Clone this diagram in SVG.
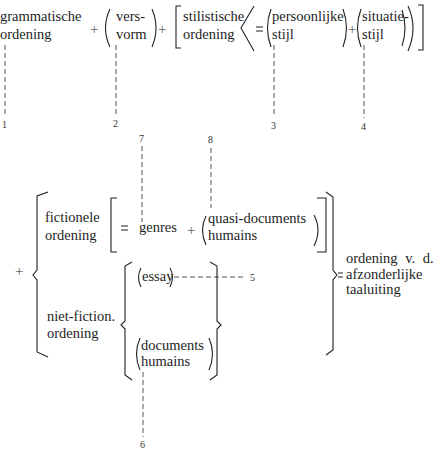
<svg xmlns="http://www.w3.org/2000/svg" width="439" height="450" viewBox="0 0 439 450" font-family="'Liberation Serif', 'DejaVu Serif', serif">
<style>
text{font-family:"Liberation Serif","DejaVu Serif",serif;font-size:14.5px;fill:#1e1e1e}
.pl{font-size:15px;fill:#666}
.num{font-size:10px;fill:#333}
.br{fill:none;stroke:#222;stroke-width:1.1;stroke-linejoin:miter}
.dash{fill:none;stroke:#555;stroke-width:1;stroke-dasharray:5 3}
</style>
<rect width="439" height="450" fill="#fff"/>
<g id="connectors">
<path class="dash" d="M5,45 V117"/>
<path class="dash" d="M116,45 V116"/>
<path class="dash" d="M274,45 V117"/>
<path class="dash" d="M364,45 V118"/>
<path class="dash" d="M142,146 V222"/>
<path class="dash" d="M211,148 V208"/>
<path class="dash" d="M174,277 H246"/>
<path class="dash" d="M143,372 V437"/>
</g>
<g id="grammatische">
<text x="0" y="21">grammatische</text><text x="0" y="38.5">ordening</text>
</g>
<text class="pl" x="90" y="34">+</text>
<g id="versvorm">
<path class="br" d="M110,9 Q101,28 110,47"/>
<text x="116" y="21">vers-</text><text x="116" y="38.5">vorm</text>
<path class="br" d="M152,9 Q160,28 152,47"/>
</g>
<text class="pl" x="158" y="34">+</text>
<g id="stilistische">
<path class="br" d="M181,6 H176 V48 H181"/>
<text x="183" y="21">stilistische</text><text x="183" y="38.5">ordening</text>
<path class="br" d="M254,6 L241,28 L254,51"/>
<path class="br" d="M256,27 H263 M256,31 H263"/>
<g id="persoonlijke">
<path class="br" d="M271,9 Q264,28 271,47"/>
<text x="272" y="21">persoonlijke</text><text x="272" y="38.5">stijl</text>
<path class="br" d="M343,9 Q350,28 343,47"/>
</g>
<text class="pl" x="348" y="34">+</text>
<g id="situatie">
<path class="br" d="M361,9 Q354,28 361,47"/>
<text x="362" y="21">situatie-</text><text x="362" y="38.5">stijl</text>
<path class="br" d="M402,10 Q408,28 402,46"/>
</g>
<path class="br" d="M408,6 Q418,28 408,51"/>
<path class="br" d="M418,5 H423 V50 H418"/>
</g>
<g id="labels-top">
<text class="num" x="2" y="128">1</text>
<text class="num" x="113" y="127">2</text>
<text class="num" x="271" y="129">3</text>
<text class="num" x="361" y="130">4</text>
<text class="num" x="139" y="142">7</text>
<text class="num" x="208" y="143">8</text>
</g>
<text class="pl" x="15" y="276">+</text>
<g id="tekstordening">
<path class="br" d="M48,192 L37,196 V270 L33,275 L37,280 V352 L48,357"/>
<g id="fictionele">
<text x="45" y="222">fictionele</text><text x="45" y="240">ordening</text>
<path class="br" d="M117,198 H111 V252 H117"/>
<path class="br" d="M121,226 H128 M121,230 H128"/>
<text x="139" y="232">genres</text>
<text class="pl" x="187" y="235">+</text>
<g id="quasi">
<path class="br" d="M206,216 Q199,230 206,245"/>
<text x="208" y="223">quasi-documents</text><text x="208" y="240">humains</text>
<path class="br" d="M314,215 Q322,230 314,246"/>
</g>
<path class="br" d="M317,198 H326 V252 H317"/>
</g>
<g id="nietfictie">
<text x="47" y="321">niet-fiction.</text><text x="47" y="338">ordening</text>
<path class="br" d="M132,262 L125,266 V321 L121,325 L125,329 V375 L132,380"/>
<g id="essay">
<path class="br" d="M141,268 Q136,277 141,287"/>
<text x="142" y="281">essay</text>
<path class="br" d="M170,268 Q175,277 170,287"/>
</g>
<g id="documents">
<path class="br" d="M140,338 Q133,354 140,370"/>
<text x="141" y="350">documents</text><text x="141" y="366">humains</text>
<path class="br" d="M209,338 Q216,354 209,370"/>
</g>
<path class="br" d="M210,262 L217,266 V321 L221,325 L217,329 V375 L210,380"/>
</g>
<path class="br" d="M326,192 L333,197 V270 L337,275 L333,280 V350 L326,355"/>
</g>
<text class="num" x="250" y="281">5</text>
<text class="num" x="140" y="448">6</text>
<g id="taaluiting">
<path class="br" d="M338,273 H343 M338,277 H343"/>
<text x="346" y="263" word-spacing="4">ordening v. d.</text><text x="346" y="279">afzonderlijke</text><text x="346" y="294">taaluiting</text>
</g>
</svg>
